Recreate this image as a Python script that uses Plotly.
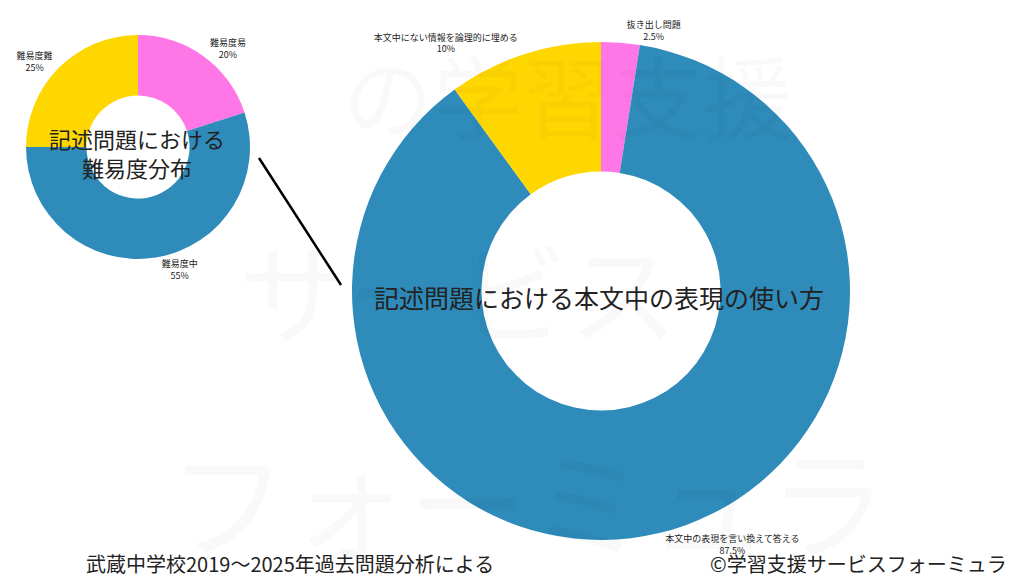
import plotly.graph_objects as go

small_labels = ["難易度易", "難易度中", "難易度難"]
small_values = [20, 55, 25]
big_labels = ["抜き出し問題", "本文中の表現を言い換えて答える", "本文中にない情報を論理的に埋める"]
big_values = [2.5, 87.5, 10]
colors = ["#FF77E6", "#2E8BBA", "#FFD700"]

W, H = 1024, 576
fig = go.Figure()
fig.add_trace(go.Pie(labels=small_labels, values=small_values, hole=0.46, sort=False,
    direction="clockwise", rotation=0, marker=dict(colors=colors),
    textposition="outside", texttemplate="%{label}<br>%{percent:.0%}",
    textfont=dict(size=9, color="#222"), showlegend=False,
    domain=dict(x=[18/W, 242/W], y=[1-251/H, 1-27/H])))
fig.add_trace(go.Pie(labels=big_labels, values=big_values, hole=0.48, sort=False,
    direction="clockwise", rotation=0, marker=dict(colors=colors),
    textposition="outside", texttemplate="%{label}<br>%{percent:.3~p}",
    textfont=dict(size=9, color="#222"), showlegend=False,
    domain=dict(x=[343/W, 843/W], y=[1-532/H, 1-34/H])))

ann = []
wm = "rgba(0,0,0,0.025)"
for t, x, y, s in [("の学習支援", 560, 85, 90), ("サービス", 450, 280, 110), ("フォーミュラ", 520, 490, 120)]:
    ann.append(dict(text=t, x=x/W, y=1-y/H, xref="paper", yref="paper", showarrow=False,
                    xanchor="center", yanchor="middle", font=dict(size=s, color=wm)))
def a(text, x, y, s):
    return dict(text=text, x=x/W, y=1-y/H, xref="paper", yref="paper", showarrow=False,
                xanchor="center", yanchor="middle", font=dict(size=s, color="#222"))
ann += [
    a("記述問題における<br>難易度分布", 129, 144, 22),
    a("記述問題における本文中の表現の使い方", 591, 289, 25),
    a("武蔵中学校2019～2025年過去問題分析による", 282, 555, 20),
    a("©学習支援サービスフォーミュラ", 850, 555, 20),
]
fig.update_layout(width=W, height=H, margin=dict(l=0, r=0, t=0, b=0),
    paper_bgcolor="white", plot_bgcolor="white", annotations=ann,
    font=dict(family="Noto Sans CJK JP"),
    shapes=[dict(type="line", xref="paper", yref="paper", x0=251/W, y0=1-150/H,
                 x1=333/W, y1=1-277/H, line=dict(color="black", width=2.5))])
fig.write_html("out.html")
